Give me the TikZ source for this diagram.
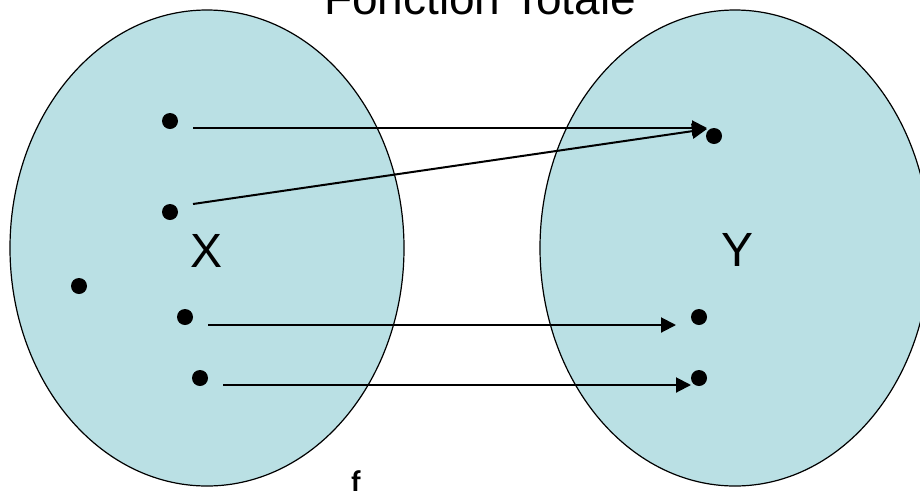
\documentclass[tikz,border=0pt]{standalone}
\usepackage{fontspec}
\setmainfont{Liberation Sans}
\newfontfamily\ffont{Carlito}
\usepackage{xcolor}
\usepackage{tikz}
\usetikzlibrary{arrows.meta,positioning}
\definecolor{setfill}{RGB}{186,224,228}
\tikzset{
  EN/.style={draw=black, fill=setfill, line width=1.2pt},
  PT/.style={circle, fill=black, inner sep=0pt, minimum size=16pt},
  SA/.style={-{Triangle[length=15pt,width=15pt]}, line width=2pt},
  LB/.style={font=\fontsize{48}{56}\selectfont, anchor=base, inner sep=0pt}
}

\begin{document}
\begin{tikzpicture}[x=1pt, y=-1pt]

\useasboundingbox (0,0) rectangle (920,491);
\clip (0,0) rectangle (920,491);

% Sets
\draw[EN] (207,248) ellipse [x radius=197pt, y radius=238pt];
\draw[EN] (735,248) ellipse [x radius=195pt, y radius=238pt];

% Title and labels
\node[LB, font=\fontsize{46}{54}\selectfont] (T) at (480,14) {Fonction Totale};
\node[LB] (X) at (207,267) {X};
\node[LB] (Y) at (737,266) {Y};
\node[anchor=base, inner sep=0pt, font=\ffont\bfseries\fontsize{30}{34}\selectfont] (F) at (356,491) {f};

% Points of X
\node[PT] (x1) at (170,121) {};
\node[PT] (x2) at (170,212) {};
\node[PT] (x3) at (79,286)  {};
\node[PT] (x4) at (185,317) {};
\node[PT] (x5) at (200,378) {};

% Points of Y
\node[PT] (y1) at (714,136) {};
\node[PT] (y2) at (699,317) {};
\node[PT] (y3) at (699,378) {};

% -- Mapping f --
\draw[SA] ([shift={(23,7)}]x1.center) -- ([shift={(-7,-8)}]y1.center);
\draw[SA] ([shift={(23,-8)}]x2.center) -- ([shift={(-7,-7)}]y1.center);
\draw[SA] ([shift={(23,8)}]x4.center) -- ([shift={(-23,8)}]y2.center);
\draw[SA] ([shift={(23,7)}]x5.center) -- ([shift={(-8,7)}]y3.center);

\end{tikzpicture}
\end{document}
